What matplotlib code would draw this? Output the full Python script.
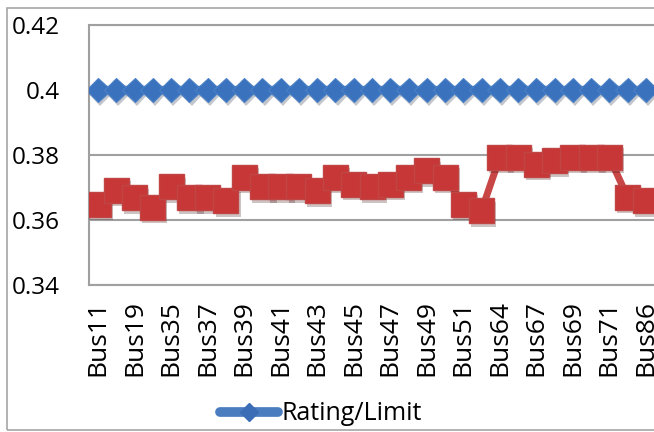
import matplotlib
matplotlib.use('Agg')
import matplotlib.pyplot as plt
import matplotlib.patheffects as pe
from matplotlib.patches import Rectangle
from matplotlib.lines import Line2D

buses = ['Bus11', 'Bus12', 'Bus19', 'Bus34', 'Bus35', 'Bus36', 'Bus37', 'Bus38',
         'Bus39', 'Bus40', 'Bus41', 'Bus42', 'Bus43', 'Bus44', 'Bus45', 'Bus46',
         'Bus47', 'Bus48', 'Bus49', 'Bus50', 'Bus51', 'Bus52', 'Bus64', 'Bus66',
         'Bus67', 'Bus68', 'Bus69', 'Bus70', 'Bus71', 'Bus72', 'Bus86']
rating = [0.4] * len(buses)
loading = [0.3649, 0.3692, 0.3669, 0.3640, 0.3702, 0.3669, 0.3669, 0.3659,
           0.3731, 0.3702, 0.3702, 0.3702, 0.3690, 0.3732, 0.3710, 0.3702,
           0.3710, 0.3732, 0.3752, 0.3732, 0.3649, 0.3629, 0.3793, 0.3793,
           0.3771, 0.3782, 0.3793, 0.3793, 0.3793, 0.3670, 0.3659]
yticks = [0.34, 0.36, 0.38, 0.4, 0.42]
ytick_labels = ['0.34', '0.36', '0.38', '0.4', '0.42']

plt.rcParams['font.family'] = ['Open Sans', 'DejaVu Sans']

fig = plt.figure(figsize=(6.54, 4.32), dpi=100)
fig.patch.set_facecolor('white')
fig.patches.append(Rectangle((7/654, 2/432), 1.2, 422/432, transform=fig.transFigure,
                             fill=False, edgecolor='#A6A6A6', linewidth=1.2))

ax = fig.add_axes([89/654, 1-285/432, 566/654, 260/432])
x = list(range(len(buses)))
shadow = [pe.SimplePatchShadow(offset=(1.5, -2.5), alpha=0.25), pe.Normal()]

# lines first, then the markers with a soft drop shadow
ax.plot(x, rating, color='#3B73BE', linewidth=6, solid_capstyle='round', zorder=3)
ax.plot(x, rating, linestyle='none', marker='D', markersize=12.7,
        markerfacecolor='#3A72BD', markeredgecolor='#4A80C6', markeredgewidth=0.8,
        path_effects=shadow, zorder=3)
ax.plot(x, loading, color='#C84646', linewidth=5, zorder=4)
ax.plot(x, loading, linestyle='none', marker='s', markersize=18,
        markerfacecolor='#C83737', markeredgecolor='#C04545', markeredgewidth=1,
        path_effects=shadow, zorder=4)

ax.set_xlim(-0.5, len(buses) - 0.5)
ax.set_ylim(0.34, 0.42)
ax.set_yticks(yticks)
ax.set_yticklabels(ytick_labels, fontsize=17.5)
ax.set_xticks(x[::2])
ax.set_xticklabels(buses[::2], rotation=90, fontsize=19)
ax.tick_params(axis='x', length=0, pad=11)
ax.tick_params(axis='y', length=0, pad=21)
ax.yaxis.grid(True, color='#A0A0A0', linewidth=1.5)
ax.set_axisbelow(True)
for s in ['left', 'bottom', 'top']:
    ax.spines[s].set_color('#A0A0A0')
    ax.spines[s].set_linewidth(1.5)
ax.spines['right'].set_visible(False)

handle = Line2D([], [], color='#4A7CC0', linewidth=7, solid_capstyle='round',
                marker='D', markersize=9, markerfacecolor='#3A6DB5',
                markeredgecolor='#3A6DB5')
fig.legend([handle], ['Rating/Limit'], loc='center', bbox_to_anchor=(321/654, 1-414/432),
           frameon=False, fontsize=18, handlelength=2.3, handletextpad=0.15, borderpad=0)

fig.savefig('out.png', dpi=100)
